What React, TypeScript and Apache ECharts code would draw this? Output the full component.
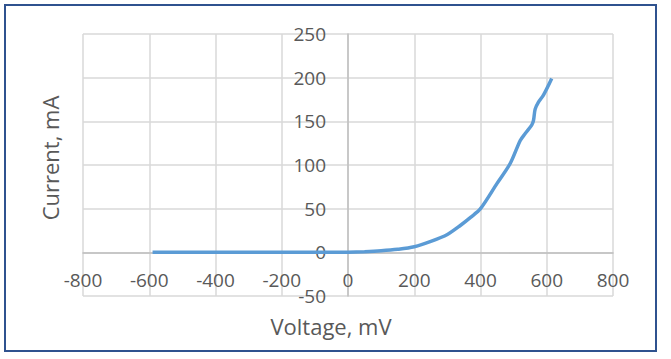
import React, { useEffect, useRef } from "react";
import * as echarts from "echarts";

const voltage = [-590, -400, -200, -50, 0, 50, 100, 150, 200, 250, 300, 340, 370, 400, 450, 490, 520, 535, 555, 560, 565, 575, 590, 615];
const current = [0, 0, 0, 0, 0.2, 0.8, 1.8, 3.5, 6.4, 12.5, 20.5, 31, 40, 50, 79, 102, 128, 136, 146, 151, 164, 172, 180, 199];

const xTicks = { min: -800, max: 800, interval: 200 };
const yTicks = { min: -50, max: 250, interval: 50 };

const FONT = "'Open Sans', sans-serif";
const TEXT = "#595959";

const GRID = { left: 83, right: 58, top: 34, bottom: 63 };
const W = 671;
const H = 359;

export default function App() {
  const ref = useRef<HTMLDivElement>(null);
  useEffect(() => {
    if (!ref.current) return;
    const chart = echarts.init(ref.current, undefined, { renderer: "svg" });
    const plotW = W - GRID.left - GRID.right;
    const plotH = H - GRID.top - GRID.bottom;
    const xZeroOffset = -((0 - xTicks.min) / (xTicks.max - xTicks.min)) * plotW;
    const yZeroOffset = -((0 - yTicks.min) / (yTicks.max - yTicks.min)) * plotH;
    chart.setOption({
      animation: false,
      backgroundColor: "#ffffff",
      grid: { ...GRID, containLabel: false },
      xAxis: {
        type: "value",
        position: "bottom",
        offset: yZeroOffset,
        min: xTicks.min,
        max: xTicks.max,
        interval: xTicks.interval,
        axisLine: { onZero: false, lineStyle: { color: "#bfbfbf", width: 1.5 } },
        axisTick: { show: false },
        axisLabel: { color: TEXT, fontFamily: FONT, fontSize: 19, margin: 18 },
        splitLine: { show: true, lineStyle: { color: "#d9d9d9", width: 1.5 } },
      },
      yAxis: {
        type: "value",
        position: "left",
        offset: xZeroOffset,
        min: yTicks.min,
        max: yTicks.max,
        interval: yTicks.interval,
        axisLine: { show: true, onZero: false, lineStyle: { color: "#bfbfbf", width: 1.5 } },
        axisTick: { show: false },
        axisLabel: { color: TEXT, fontFamily: FONT, fontSize: 19, margin: 22 },
        splitLine: { show: true, lineStyle: { color: "#d9d9d9", width: 1.5 } },
      },
      series: [
        {
          type: "line",
          data: voltage.map((v, i) => [v, current[i]]),
          showSymbol: false,
          smooth: 0.3,
          lineStyle: { color: "#5b9bd5", width: 3.5 },
        },
      ],
      graphic: [
        {
          type: "rect",
          shape: { x: 5, y: 5, width: 651, height: 346 },
          style: { fill: "none", stroke: "#2f528f", lineWidth: 2 },
          silent: true,
        },
        {
          type: "text",
          x: 50,
          y: 158,
          rotation: Math.PI / 2,
          style: {
            text: "Current, mA",
            fill: TEXT,
            font: `22px ${FONT}`,
            align: "center",
            verticalAlign: "middle",
          },
        },
        {
          type: "text",
          x: 331,
          y: 326,
          style: {
            text: "Voltage, mV",
            fill: TEXT,
            font: `22px ${FONT}`,
            align: "center",
            verticalAlign: "middle",
          },
        },
      ],
    });
    return () => chart.dispose();
  }, []);
  return (
    <div
      ref={ref}
      style={{ position: "fixed", left: 0, top: 0, width: W, height: H }}
    />
  );
}
